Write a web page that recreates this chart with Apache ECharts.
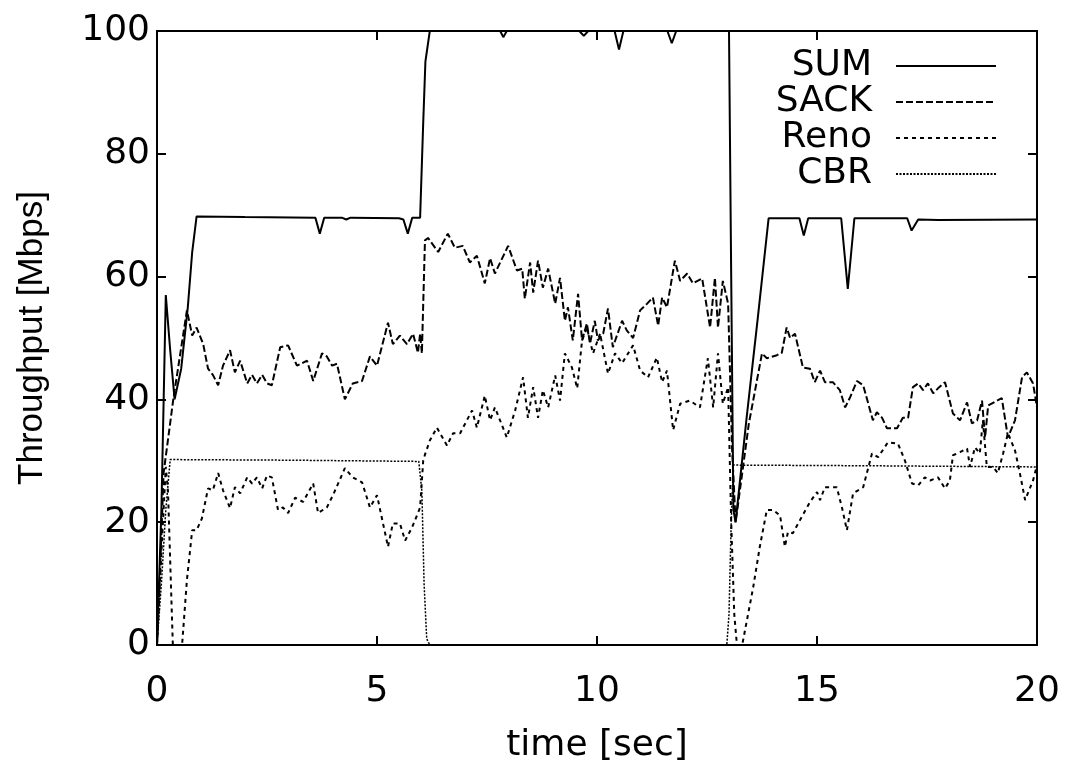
<!DOCTYPE html>
<html>
<head>
<meta charset="utf-8">
<script src="https://cdn.jsdelivr.net/npm/echarts@6/dist/echarts.min.js"></script>
<style>
  html, body { margin: 0; padding: 0; background: #fff; }
  #chart { width: 1066px; height: 765px; }
</style>
</head>
<body>
<div id="chart"></div>
<script>
// throughput over time, [time sec, Mbps]
const sumPoints = [
  [0, 0], [0.1, 22], [0.2, 57], [0.3, 48], [0.4, 40], [0.55, 45], [0.7, 55], [0.8, 64], [0.9, 69.8],
  [2.0, 69.7], [3.6, 69.6], [3.7, 67], [3.8, 69.6], [4.2, 69.6], [4.3, 69.3], [4.4, 69.6], [5.5, 69.5],
  [5.6, 69.3], [5.7, 67], [5.8, 69.6], [5.98, 69.6], [6.05, 85], [6.1, 95], [6.2, 100], [7.8, 100],
  [7.87, 99], [7.95, 100], [9.6, 100], [9.7, 99.2], [9.8, 100], [10.4, 100], [10.5, 97], [10.6, 100],
  [11.6, 100], [11.7, 98], [11.8, 100], [13.0, 100], [13.05, 60], [13.1, 22], [13.15, 20], [13.4, 37],
  [13.65, 53], [13.9, 69.5], [14.6, 69.5], [14.7, 66.7], [14.8, 69.5], [15.55, 69.5], [15.7, 58],
  [15.85, 69.5], [17.05, 69.5], [17.15, 67.5], [17.3, 69.3], [17.75, 69.2], [20, 69.3]
];

const sackPoints = [
  [0, 0], [0.07, 12], [0.15, 28], [0.37, 40], [0.68, 54.5], [0.8, 50.4], [0.9, 51.7], [1.05, 49],
  [1.16, 45], [1.27, 44], [1.39, 42.3], [1.5, 45.5], [1.66, 48], [1.77, 44.4], [1.89, 46.3], [2.05, 42.6],
  [2.16, 44], [2.27, 42.6], [2.39, 44], [2.5, 42.6], [2.61, 42.3], [2.8, 48.5], [2.98, 48.8], [3.18, 45.5],
  [3.41, 46.3], [3.55, 43], [3.75, 47.5], [3.86, 47], [3.98, 45.5], [4.09, 45.8], [4.27, 40], [4.45, 42.6],
  [4.66, 43], [4.84, 47], [5.0, 45.5], [5.25, 52.5], [5.36, 49], [5.52, 50.4], [5.68, 49], [5.82, 50.7],
  [5.93, 47.6], [5.98, 50.7], [6.02, 47.5], [6.09, 65.9], [6.16, 66.3], [6.39, 64], [6.61, 67], [6.77, 64.7],
  [6.95, 65], [7.11, 62.3], [7.27, 63.4], [7.45, 58.9], [7.57, 63], [7.68, 60.5], [7.98, 65], [8.18, 61],
  [8.3, 61.3], [8.36, 56.4], [8.48, 62.3], [8.55, 57.4], [8.66, 62.6], [8.77, 58.2], [8.89, 61.3], [9.05, 55.6],
  [9.16, 59.8], [9.27, 52.8], [9.34, 55], [9.45, 49.6], [9.57, 57.2], [9.66, 49.6], [9.77, 52.4], [9.84, 49.1],
  [9.95, 52.8], [10.02, 49.6], [10.14, 50.7], [10.25, 54.8], [10.36, 48.5], [10.57, 52.8], [10.68, 51.2],
  [10.82, 50], [10.98, 54.5], [11.14, 55.6], [11.27, 56.6], [11.39, 52], [11.48, 56.6], [11.59, 55],
  [11.77, 62.6], [11.89, 59.3], [12.05, 60.5], [12.18, 58.9], [12.39, 59.7], [12.57, 51.7], [12.68, 59.8],
  [12.75, 51.7], [12.86, 59.3], [12.98, 55.6], [13.07, 32], [13.15, 20], [13.45, 36], [13.75, 47.5],
  [13.86, 46.7], [14.09, 47.2], [14.2, 47.6], [14.31, 51.7], [14.39, 50], [14.5, 50.7], [14.68, 45.2],
  [14.84, 45], [14.95, 42.8], [15.07, 44.7], [15.18, 42.8], [15.36, 42.8], [15.52, 41.5], [15.64, 38.7],
  [15.75, 40.3], [15.91, 43], [16.05, 42.3], [16.27, 36.6], [16.36, 37.9], [16.48, 37], [16.59, 35.3],
  [16.82, 35.3], [16.95, 37], [17.07, 37], [17.18, 42], [17.3, 42.6], [17.41, 41.5], [17.52, 42.6],
  [17.64, 41], [17.75, 41.8], [17.91, 42.8], [18.09, 37.7], [18.25, 36.6], [18.41, 39.5], [18.52, 36.1],
  [18.64, 36.6], [18.75, 39.8], [18.82, 33.8], [18.89, 39], [19.09, 39.8], [19.2, 40.2], [19.34, 33.8],
  [19.5, 36.6], [19.66, 43.6], [19.77, 44.4], [19.91, 42.6], [20, 38.7]
];

const renoPoints = [
  [0, 0], [0.1, 15], [0.2, 29], [0.25, 25], [0.36, 0], [0.57, 0], [0.68, 10.6], [0.8, 18.7], [0.9, 18.7],
  [1.02, 20.6], [1.16, 25.5], [1.27, 25.2], [1.39, 28], [1.5, 25.2], [1.66, 22.3], [1.77, 25.7], [1.89, 24.7],
  [2.05, 27.3], [2.16, 26.3], [2.27, 27.3], [2.39, 25.5], [2.5, 27.6], [2.61, 27.3], [2.75, 22], [2.86, 22.4],
  [2.98, 21.5], [3.14, 24], [3.32, 23.3], [3.55, 26.3], [3.66, 21.5], [3.86, 22.4], [4.0, 24.4], [4.27, 28.8],
  [4.45, 27.3], [4.66, 26.5], [4.84, 22.4], [5.0, 24.4], [5.25, 16], [5.36, 19.8], [5.52, 19.8], [5.64, 17],
  [5.8, 19.2], [5.93, 21.5], [5.98, 22.4], [6.05, 30], [6.09, 31], [6.2, 33.3], [6.36, 35.4], [6.59, 32.5],
  [6.73, 34.5], [6.89, 34.5], [7.16, 38.2], [7.27, 35.4], [7.45, 40.6], [7.57, 36.6], [7.68, 38.7],
  [7.95, 33.8], [8.14, 38.2], [8.32, 43.6], [8.43, 37], [8.55, 42], [8.66, 37], [8.77, 41.5], [8.89, 38.7],
  [9.05, 43.9], [9.16, 39.8], [9.27, 47.5], [9.43, 45.2], [9.55, 41.8], [9.66, 49.6], [9.77, 51.7],
  [9.91, 47.5], [10.07, 50.7], [10.25, 44.2], [10.41, 47.5], [10.57, 45.9], [10.82, 48.8], [10.98, 44.7],
  [11.16, 43.6], [11.36, 46.8], [11.48, 42.8], [11.59, 44.7], [11.73, 35], [11.89, 39.3], [12.11, 39.8],
  [12.34, 38.7], [12.52, 46.7], [12.64, 38.7], [12.75, 47.5], [12.86, 39.3], [12.98, 42], [13.05, 20],
  [13.12, 5], [13.18, 0], [13.3, 0], [13.55, 9.4], [13.7, 16], [13.86, 22], [14.0, 22], [14.16, 21.1],
  [14.27, 16], [14.34, 18.4], [14.45, 18.2], [14.61, 20.3], [14.84, 23.3], [15.0, 24.9], [15.07, 23.6],
  [15.18, 25.7], [15.45, 25.7], [15.57, 22.3], [15.68, 18.7], [15.82, 24.7], [16.05, 25.7], [16.25, 31.2],
  [16.39, 30.6], [16.61, 33], [16.84, 32.8], [17.0, 30], [17.16, 26.3], [17.3, 26], [17.45, 27.3],
  [17.57, 26.8], [17.75, 27.3], [17.91, 25.5], [18.02, 26.8], [18.09, 30.9], [18.25, 31.4], [18.41, 32],
  [18.48, 29], [18.59, 32.2], [18.7, 31.2], [18.77, 36.6], [18.86, 29], [19.0, 29], [19.11, 28], [19.23, 31.2],
  [19.34, 34.5], [19.5, 31.7], [19.61, 28], [19.73, 23.6], [19.91, 26.8], [20, 29.3]
];

const cbrPoints = [
  [0, 0], [0.1, 10], [0.2, 22], [0.3, 30.2], [3, 30.1], [5.95, 29.9], [6.02, 25], [6.07, 10], [6.13, 1],
  [6.2, 0], [12.95, 0], [13.0, 5], [13.05, 20], [13.1, 29.3], [16, 29.2], [20, 29]
];

const seriesNames = ['SUM', 'SACK', 'Reno', 'CBR'];
const xTicks = [0, 5, 10, 15, 20];
const yTicks = [0, 20, 40, 60, 80, 100];

const chart = echarts.init(document.getElementById('chart'));

const labelFont = 'DejaVu Sans';

function frame() {
  return {show: true, onZero: false, lineStyle: {color: '#000', width: 2}};
}
function tick() {
  return {show: true, inside: true, length: 9, lineStyle: {color: '#000', width: 2}};
}

function mirrorAxis(pos, ticks, step) {
  return {
    type: 'value',
    position: pos,
    min: ticks[0],
    max: ticks[ticks.length - 1],
    interval: step,
    axisLine: frame(),
    axisTick: tick(),
    splitLine: {show: false},
    axisLabel: {show: false}
  };
}

chart.setOption({
  animation: false,
  backgroundColor: '#fff',
  grid: {
    left: 157, right: 29, top: 31, bottom: 120,
    outerBoundsMode: 'none',
    show: true, borderColor: '#000', borderWidth: 2
  },
  legend: {
    data: seriesNames,
    orient: 'vertical',
    align: 'right',
    right: 64,
    top: 43,
    itemWidth: 100,
    itemHeight: 14,
    itemGap: 0,
    itemStyle: {opacity: 0},
    textStyle: {fontFamily: labelFont, fontSize: 36, color: '#000', lineHeight: 36, padding: [0, 19, 0, 0]}
  },
  xAxis: [{
    type: 'value',
    position: 'bottom',
    min: xTicks[0],
    max: xTicks[xTicks.length - 1],
    interval: 5,
    name: 'time [sec]',
    nameLocation: 'middle',
    nameGap: 83,
    nameTextStyle: {fontFamily: labelFont, fontSize: 36, color: '#000'},
    axisLine: frame(),
    axisTick: tick(),
    splitLine: {show: false},
    axisLabel: {fontFamily: labelFont, fontSize: 36, color: '#000', margin: 29}
  }, mirrorAxis('top', xTicks, 5)],
  yAxis: [{
    type: 'value',
    position: 'left',
    min: yTicks[0],
    max: yTicks[yTicks.length - 1],
    interval: 20,
    name: 'Throughput [Mbps]',
    nameLocation: 'middle',
    nameGap: 107,
    nameTextStyle: {fontFamily: 'Liberation Sans', fontSize: 35, color: '#000'},
    axisLine: frame(),
    axisTick: tick(),
    splitLine: {show: false},
    axisLabel: {fontFamily: labelFont, fontSize: 36, color: '#000', margin: 7}
  }, mirrorAxis('right', yTicks, 20)],
  series: [{
    name: 'SUM',
    type: 'line',
    data: sumPoints,
    symbol: 'none',
    clip: false,
    lineStyle: {color: '#000', width: 2, type: 'solid'},
    itemStyle: {color: '#000'}
  }, {
    name: 'SACK',
    type: 'line',
    data: sackPoints,
    symbol: 'none',
    lineStyle: {color: '#000', width: 2, type: [7, 3]},
    itemStyle: {color: '#000'}
  }, {
    name: 'Reno',
    type: 'line',
    data: renoPoints,
    symbol: 'none',
    lineStyle: {color: '#000', width: 2, type: [4, 4]},
    itemStyle: {color: '#000'}
  }, {
    name: 'CBR',
    type: 'line',
    data: cbrPoints,
    symbol: 'none',
    lineStyle: {color: '#000', width: 1.5, type: [2, 1.5]},
    itemStyle: {color: '#000'}
  }]
});
</script>
</body>
</html>
